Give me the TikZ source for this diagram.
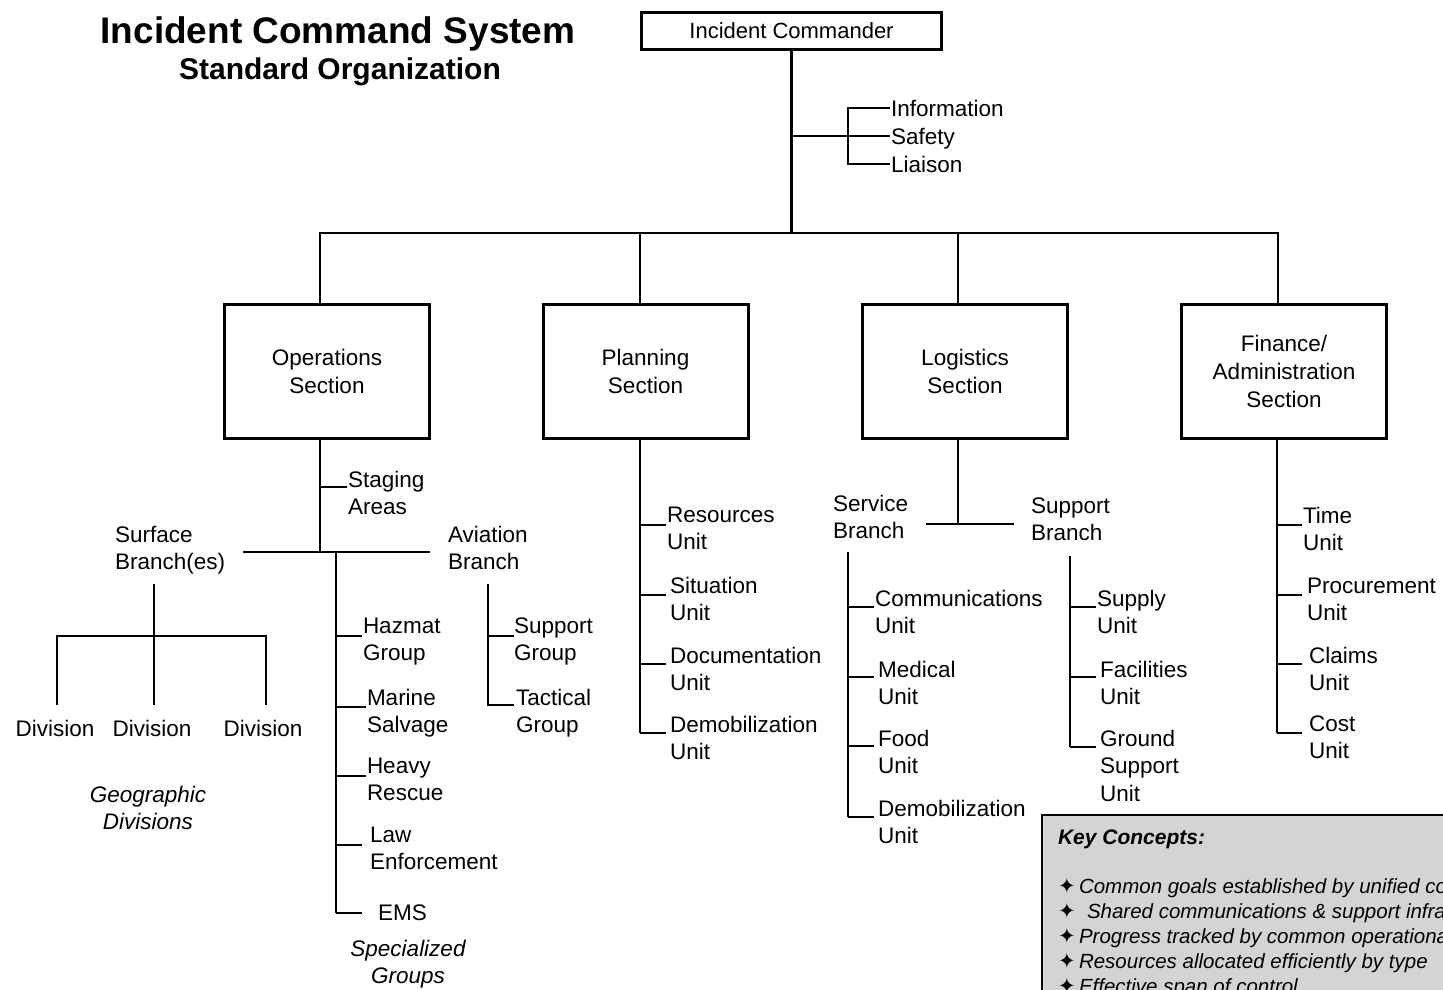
\documentclass[tikz,border=0pt]{standalone}
\usepackage{fontspec}
\setmainfont{Liberation Sans}
\newfontfamily\symfont{DejaVu Sans}
\definecolor{keygray}{RGB}{212,212,212}
\newcommand\kbul{{\symfont\upshape\fontsize{21}{21}\selectfont ✦}}
\begin{document}
\begin{tikzpicture}[x=1pt,y=-1pt,
  every node/.style={inner sep=0pt, outer sep=0pt},
  lab/.style={font=\fontsize{22.5}{27.5}\selectfont, align=left, anchor=north west},
  note/.style={font=\fontsize{22.5}{27.5}\selectfont\itshape, align=center},
  sect/.style={draw, line width=3pt, minimum width=205pt, minimum height=134pt,
               align=center, font=\fontsize{22.5}{28}\selectfont},
  wire/.style={line width=2.6pt},
  slim/.style={line width=2pt},
  kc/.style={font=\fontsize{20.5}{25}\selectfont\itshape, anchor=west},
]
\useasboundingbox (0,0) rectangle (1443,990);
\clip (0,0) rectangle (1443,990);

% ---- title ----
\node[font=\fontsize{37}{41}\selectfont\bfseries, anchor=base] (title) at (338,44) {Incident Command System};
\node[font=\fontsize{30}{34}\selectfont\bfseries, anchor=base] (subtitle) at (340,80) {Standard Organization};

% ---- command staff ----
\node[draw, line width=3pt, minimum width=300pt, minimum height=37pt,
      font=\fontsize{22}{26}\selectfont] (ic) at (791.5,31) {Incident Commander};
\node[lab, anchor=base west] (info)    at (891,116) {Information};
\node[lab, anchor=base west] (safety)  at (891,144) {Safety};
\node[lab, anchor=base west] (liaison) at (891,172) {Liaison};
\coordinate (tInf) at (890,108);
\coordinate (tSaf) at (890,136);
\coordinate (tLia) at (890,164);
\coordinate (icJ) at (791.5,136);
\coordinate (icBus) at (791.5,233);
\coordinate (brk) at (848,136);
\draw[wire] (ic.south) -- (icBus);
\draw[wire] (icJ) -- (tSaf);
\draw[slim] (tInf) -| (brk) |- (tLia);

% ---- general staff sections ----
\node[sect] (ops)  at (327,371.5)  {Operations\\Section};
\node[sect] (plan) at (645.5,371.5) {Planning\\Section};
\node[sect] (log)  at (965,371.5)  {Logistics\\Section};
\node[sect] (fin)  at (1284,371.5) {Finance/\\Administration\\Section};
\coordinate (opsT)  at (320,303);
\coordinate (planT) at (640,303);
\coordinate (logT)  at (958,303);
\coordinate (finT)  at (1278,303);
\draw[wire] (opsT) -- (opsT |- icBus) -- (finT |- icBus) -- (finT);
\draw[slim] (planT) -- (planT |- icBus);
\draw[slim] (logT) -- (logT |- icBus);

% ---- operations ----
\coordinate (opsB) at (320,440);
\coordinate (jOps) at (320,552);
\coordinate (tStg) at (347,487);
\draw[wire] (opsB) -- (jOps);
\draw[wire] (opsB |- tStg) -- (tStg);
\node[lab] (stg) at (348,471) {Staging\\Areas};
\coordinate (surfE) at (243,552);
\coordinate (aviE) at (430,552);
\draw[wire] (surfE) -- (aviE);
\node[lab] (surf) at (115,526) {Surface\\Branch(es)};
\node[lab] (avi)  at (448,526) {Aviation\\Branch};

% surface branch divisions
\coordinate (surfD) at (154,584);
\coordinate (divJ) at (154,636);
\coordinate (d1T) at (57,705);
\coordinate (d2T) at (154,705);
\coordinate (d3T) at (266,705);
\draw[wire] (surfD) -- (d2T);
\draw[wire] (d1T) |- (divJ) -| (d3T);
\node[lab, anchor=base] (div1) at (55,736) {Division};
\node[lab, anchor=base] (div2) at (152,736) {Division};
\node[lab, anchor=base] (div3) at (263,736) {Division};
\node[note] (geo) at (148,808) {Geographic\\Divisions};

% specialized groups
\coordinate (spT)  at (336,552);
\coordinate (tHaz) at (362,636);
\coordinate (tMar) at (366,707);
\coordinate (tHea) at (366,776);
\coordinate (tLaw) at (362,845);
\coordinate (tEms) at (362,913);
\draw[wire] (spT) -- (spT |- tEms);
\foreach \t in {tHaz,tMar,tHea,tLaw,tEms} \draw[wire] (spT |- \t) -- (\t);
\node[lab] (haz) at (363,617.7) {Hazmat\\Group};
\node[lab] (mar) at (367,688.7) {Marine\\Salvage};
\node[lab] (hea) at (367,757.7) {Heavy\\Rescue};
\node[lab] (law) at (370,826.7) {Law\\Enforcement};
\node[lab, anchor=west] (ems) at (378,913) {EMS};
\node[note] (spec) at (408,964) {Specialized\\Groups};

% aviation groups
\coordinate (aviD) at (488,584);
\coordinate (tSup) at (514,636);
\coordinate (tTac) at (514,705);
\draw[wire] (aviD) -- (aviD |- tTac) -- (tTac);
\draw[wire] (aviD |- tSup) -- (tSup);
\node[lab] (sgrp) at (514,617.7) {Support\\Group};
\node[lab] (tgrp) at (516,688.7) {Tactical\\Group};

% ---- planning ----
\coordinate (planB) at (640,440);
\coordinate (tRes) at (666,525);
\coordinate (tSit) at (666,595);
\coordinate (tDoc) at (666,664);
\coordinate (tPdm) at (666,733);
\draw[wire] (planB) -- (planB |- tPdm);
\foreach \t in {tRes,tSit,tDoc,tPdm} \draw[wire] (planB |- \t) -- (\t);
\node[lab] (res)  at (667,506.7) {Resources\\Unit};
\node[lab] (sit)  at (670,576.7) {Situation\\Unit};
\node[lab] (doc)  at (670,646.7) {Documentation\\Unit};
\node[lab] (pdem) at (670,715.7) {Demobilization\\Unit};

% ---- logistics ----
\coordinate (logB) at (958,440);
\coordinate (logJ) at (958,524);
\coordinate (svcE) at (926,524);
\coordinate (supE) at (1014,524);
\draw[wire] (logB) -- (logJ);
\draw[wire] (svcE) -- (supE);
\node[lab] (svc) at (833,494.7) {Service\\Branch};
\node[lab] (sup) at (1031,497.7) {Support\\Branch};

\coordinate (svcD) at (848,552);
\coordinate (tCom) at (874,607);
\coordinate (tMed) at (874,677);
\coordinate (tFod) at (874,746);
\coordinate (tLdm) at (874,817);
\draw[wire] (svcD) -- (svcD |- tLdm);
\foreach \t in {tCom,tMed,tFod,tLdm} \draw[wire] (svcD |- \t) -- (\t);
\node[lab] (comm) at (875,589.7) {Communications\\Unit};
\node[lab] (med)  at (878,660.7) {Medical\\Unit};
\node[lab] (food) at (878,729.7) {Food\\Unit};
\node[lab] (ldem) at (878,799.7) {Demobilization\\Unit};

\coordinate (supD) at (1070,556);
\coordinate (tSpl) at (1096,607);
\coordinate (tFac) at (1096,677);
\coordinate (tGnd) at (1096,747);
\draw[wire] (supD) -- (supD |- tGnd);
\foreach \t in {tSpl,tFac,tGnd} \draw[wire] (supD |- \t) -- (\t);
\node[lab] (supply) at (1097,589.7) {Supply\\Unit};
\node[lab] (fac)    at (1100,660.7) {Facilities\\Unit};
\node[lab] (gnd)    at (1100,729.7) {Ground\\Support\\Unit};

% ---- finance / administration ----
\coordinate (finB) at (1277,440);
\coordinate (tTim) at (1302,525);
\coordinate (tPro) at (1302,595);
\coordinate (tCla) at (1302,664);
\coordinate (tCos) at (1302,733);
\draw[wire] (finB) -- (finB |- tCos);
\foreach \t in {tTim,tPro,tCla,tCos} \draw[wire] (finB |- \t) -- (\t);
\node[lab] (time)   at (1303,506.7) {Time\\Unit};
\node[lab] (proc)   at (1307,577.7) {Procurement\\Unit};
\node[lab] (claims) at (1309,646.7) {Claims\\Unit};
\node[lab] (cost)   at (1309,715.7) {Cost\\Unit};

% ---- key concepts panel (runs past the page edge) ----
\node[draw, line width=2.5pt, fill=keygray, anchor=north west,
      minimum width=430pt, minimum height=210pt] (key) at (1042,815) {};
\node[font=\fontsize{21}{25}\selectfont\bfseries\itshape, anchor=north west] (keyt) at (1058,830) {Key Concepts:};
\node[kc] (k1) at (1058,888) {\kbul\,Common goals established by unified command};
\node[kc] (k2) at (1058,913) {\kbul\ \ Shared communications \& support infrastructure};
\node[kc] (k3) at (1058,938) {\kbul\,Progress tracked by common operational picture};
\node[kc] (k4) at (1058,963) {\kbul\,Resources allocated efficiently by type};
\node[kc] (k5) at (1058,988) {\kbul\,Effective span of control};
\end{tikzpicture}
\end{document}
